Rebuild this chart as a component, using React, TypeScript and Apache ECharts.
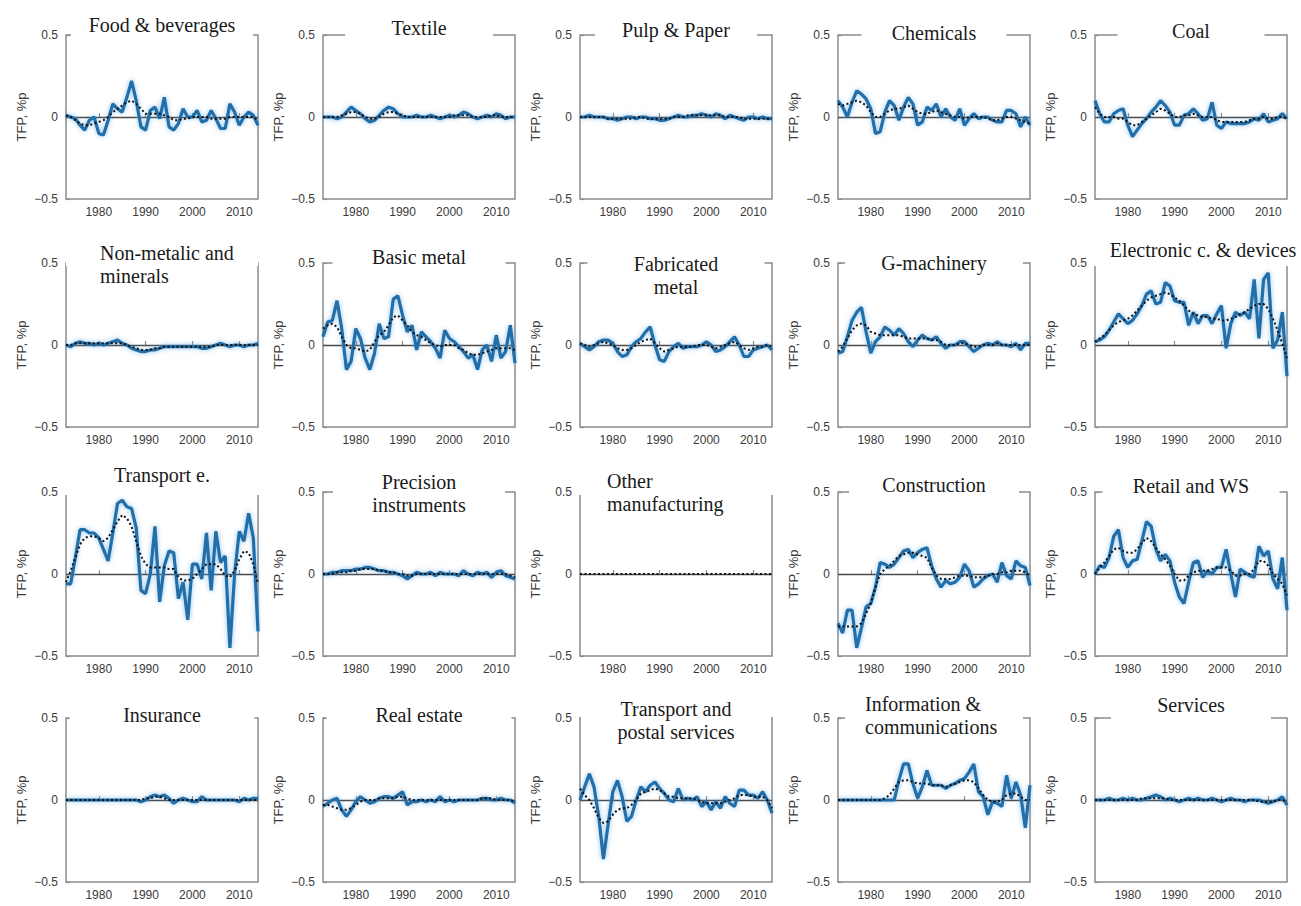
import React, { useEffect, useRef } from "react";
import * as echarts from "echarts";

// ---------- data ----------
const years = [
  1973, 1974, 1975, 1976, 1977, 1978, 1979, 1980, 1981, 1982,
  1983, 1984, 1985, 1986, 1987, 1988, 1989, 1990, 1991, 1992,
  1993, 1994, 1995, 1996, 1997, 1998, 1999, 2000, 2001, 2002,
  2003, 2004, 2005, 2006, 2007, 2008, 2009, 2010, 2011, 2012,
  2013, 2014,
];
const xTickYears = [1980, 1990, 2000, 2010];
const yMin = -0.5;
const yMax = 0.5;
const yStep = 0.5;
const yAxisName = "TFP, %p";

const panelTitles = [
  "Food & beverages", "Textile", "Pulp & Paper", "Chemicals", "Coal",
  "Non-metalic and\nminerals", "Basic metal", "Fabricated\nmetal", "G-machinery", "Electronic c. & devices",
  "Transport e.", "Precision\ninstruments", "Other\nmanufacturing", "Construction", "Retail and WS",
  "Insurance", "Real estate", "Transport and\npostal services", "Information &\ncommunications", "Services",
];

const foodTFP = [0.01, 0.0, -0.01, -0.05, -0.08, -0.02, 0.0, -0.10, -0.11, -0.02, 0.08, 0.05, 0.03, 0.12, 0.22, 0.10, -0.06, -0.08, 0.04, 0.06, -0.01, 0.12, -0.06, -0.08, -0.04, 0.05, 0.0, 0.0, 0.04, -0.03, -0.02, 0.04, -0.01, -0.07, -0.07, 0.08, 0.03, -0.05, 0.0, 0.03, 0.01, -0.05];
const foodTrend = [0.01, 0.0, -0.02, -0.04, -0.05, -0.05, -0.04, -0.03, -0.02, 0.0, 0.03, 0.05, 0.07, 0.09, 0.10, 0.08, 0.05, 0.02, 0.02, 0.02, 0.02, 0.01, 0.0, -0.02, -0.02, -0.01, -0.01, 0.0, 0.0, 0.0, 0.0, -0.01, -0.01, -0.01, -0.01, 0.0, 0.0, 0.0, 0.0, 0.0, 0.0, -0.02];

const textileTFP = [0.0, 0.0, 0.0, -0.01, 0.0, 0.03, 0.06, 0.04, 0.02, -0.01, -0.03, -0.02, 0.01, 0.04, 0.06, 0.05, 0.02, 0.0, 0.0, 0.0, 0.01, 0.0, 0.0, 0.01, 0.0, -0.01, 0.0, 0.01, 0.0, 0.01, 0.03, 0.02, 0.0, -0.01, 0.0, 0.01, 0.0, 0.02, 0.01, -0.01, 0.0, 0.0];
const textileTrend = [0.0, 0.0, 0.0, 0.0, 0.01, 0.02, 0.03, 0.03, 0.02, 0.0, -0.01, -0.01, 0.0, 0.02, 0.03, 0.03, 0.02, 0.01, 0.0, 0.0, 0.0, 0.0, 0.0, 0.0, 0.0, 0.0, 0.0, 0.0, 0.01, 0.01, 0.01, 0.01, 0.0, 0.0, 0.0, 0.0, 0.01, 0.01, 0.0, 0.0, 0.0, 0.0];

const pulpTFP = [0.0, 0.0, 0.01, 0.0, 0.0, 0.0, -0.01, -0.01, -0.02, -0.01, 0.0, 0.0, -0.01, 0.0, 0.0, -0.01, -0.01, -0.02, -0.02, -0.01, 0.0, 0.01, 0.0, 0.0, 0.01, 0.01, 0.02, 0.01, 0.0, 0.02, 0.01, -0.01, 0.01, 0.0, -0.01, -0.02, 0.0, 0.0, -0.01, 0.0, -0.01, -0.01];
const pulpTrend = [0.0, 0.0, 0.0, 0.0, 0.0, 0.0, -0.01, -0.01, -0.01, -0.01, -0.01, -0.01, 0.0, 0.0, -0.01, -0.01, -0.01, -0.01, -0.01, -0.01, 0.0, 0.0, 0.0, 0.01, 0.01, 0.01, 0.01, 0.01, 0.01, 0.01, 0.01, 0.0, 0.0, 0.0, 0.0, -0.01, -0.01, -0.01, -0.01, -0.01, -0.01, -0.01];

const chemTFP = [0.10, 0.06, 0.0, 0.09, 0.16, 0.14, 0.11, 0.05, -0.10, -0.09, 0.03, 0.10, 0.07, -0.02, 0.06, 0.12, 0.08, -0.05, -0.03, 0.06, 0.04, 0.08, 0.0, 0.05, 0.0, -0.02, 0.05, -0.05, -0.01, 0.02, -0.01, 0.0, 0.0, -0.02, -0.03, -0.03, 0.04, 0.04, 0.02, -0.06, 0.0, -0.05];
const chemTrend = [0.08, 0.07, 0.08, 0.09, 0.10, 0.09, 0.07, 0.03, 0.0, 0.0, 0.02, 0.04, 0.05, 0.05, 0.06, 0.07, 0.05, 0.03, 0.02, 0.02, 0.03, 0.04, 0.03, 0.02, 0.01, 0.0, 0.0, -0.01, 0.0, 0.0, 0.0, 0.0, -0.01, -0.02, -0.02, -0.01, 0.0, 0.0, -0.01, -0.02, -0.03, -0.04];

const coalTFP = [0.10, 0.02, -0.03, -0.03, 0.02, 0.04, 0.05, -0.05, -0.12, -0.08, -0.04, -0.01, 0.03, 0.06, 0.10, 0.07, 0.03, -0.05, -0.05, 0.01, 0.02, 0.05, 0.02, -0.02, -0.01, 0.09, -0.05, -0.07, -0.03, -0.04, -0.04, -0.04, -0.04, -0.03, -0.01, -0.02, 0.02, -0.03, -0.02, -0.01, 0.02, -0.01];
const coalTrend = [0.06, 0.02, 0.0, 0.0, 0.0, -0.01, -0.01, -0.03, -0.05, -0.05, -0.03, -0.01, 0.01, 0.03, 0.05, 0.04, 0.02, 0.0, 0.0, 0.01, 0.01, 0.02, 0.01, 0.0, 0.0, 0.0, -0.02, -0.03, -0.03, -0.03, -0.03, -0.03, -0.03, -0.02, -0.01, -0.01, 0.0, -0.01, -0.01, 0.0, 0.0, -0.01];

const nonmetTFP = [0.0, -0.01, 0.01, 0.02, 0.01, 0.01, 0.0, 0.01, 0.0, 0.01, 0.02, 0.03, 0.01, 0.0, -0.02, -0.03, -0.04, -0.04, -0.03, -0.03, -0.02, -0.01, -0.01, -0.01, -0.01, -0.01, -0.01, -0.01, -0.01, -0.02, -0.02, -0.01, 0.0, 0.01, 0.0, -0.01, 0.0, 0.0, -0.01, 0.0, 0.0, 0.01];
const nonmetTrend = [0.0, 0.0, 0.01, 0.01, 0.01, 0.01, 0.01, 0.01, 0.01, 0.01, 0.01, 0.01, 0.01, 0.0, -0.01, -0.02, -0.03, -0.03, -0.03, -0.02, -0.02, -0.01, -0.01, -0.01, -0.01, -0.01, -0.01, -0.01, -0.01, -0.01, -0.01, -0.01, 0.0, 0.0, 0.0, 0.0, 0.0, 0.0, 0.0, 0.0, 0.0, 0.0];

const basicTFP = [0.05, 0.14, 0.15, 0.27, 0.10, -0.15, -0.10, 0.10, 0.04, -0.08, -0.15, -0.05, 0.13, 0.04, 0.05, 0.28, 0.30, 0.18, 0.08, 0.12, -0.03, 0.08, 0.05, 0.02, -0.02, -0.08, 0.09, 0.04, 0.02, -0.01, -0.04, -0.08, -0.06, -0.15, -0.03, 0.0, -0.10, 0.06, -0.08, -0.04, 0.12, -0.11];
const basicTrend = [0.10, 0.12, 0.13, 0.11, 0.05, 0.0, -0.02, -0.02, -0.03, -0.04, -0.03, 0.02, 0.06, 0.08, 0.12, 0.17, 0.18, 0.15, 0.12, 0.08, 0.06, 0.05, 0.03, 0.01, 0.0, -0.01, 0.0, 0.0, 0.0, -0.02, -0.03, -0.05, -0.06, -0.06, -0.05, -0.04, -0.03, -0.02, -0.02, -0.02, -0.02, -0.03];

const fabTFP = [0.01, -0.01, -0.03, -0.01, 0.02, 0.03, 0.03, 0.01, -0.04, -0.07, -0.06, -0.01, 0.02, 0.04, 0.08, 0.11, 0.0, -0.09, -0.10, -0.04, -0.01, 0.01, -0.02, -0.01, -0.01, -0.01, 0.0, 0.02, 0.0, -0.04, -0.03, -0.01, 0.02, 0.05, 0.0, -0.07, -0.07, -0.03, -0.02, -0.01, 0.0, -0.03];
const fabTrend = [0.01, 0.0, -0.01, 0.0, 0.01, 0.02, 0.01, 0.0, -0.02, -0.03, -0.03, -0.02, 0.0, 0.02, 0.03, 0.04, 0.01, -0.02, -0.04, -0.03, -0.02, -0.01, -0.01, -0.01, -0.01, 0.0, 0.0, 0.0, -0.01, -0.02, -0.01, 0.0, 0.01, 0.02, 0.0, -0.02, -0.03, -0.02, -0.01, -0.01, 0.0, -0.01];

const gmachTFP = [-0.05, -0.04, 0.05, 0.15, 0.20, 0.23, 0.08, -0.05, 0.02, 0.05, 0.11, 0.09, 0.06, 0.10, 0.07, 0.02, -0.01, 0.03, 0.06, 0.04, 0.03, 0.05, 0.01, -0.02, 0.0, 0.0, 0.02, 0.02, -0.01, -0.04, -0.02, 0.0, 0.01, 0.0, 0.02, 0.0, 0.0, -0.01, 0.01, -0.03, 0.01, 0.01];
const gmachTrend = [-0.04, -0.01, 0.04, 0.09, 0.12, 0.13, 0.12, 0.08, 0.07, 0.06, 0.06, 0.06, 0.06, 0.06, 0.05, 0.04, 0.04, 0.04, 0.04, 0.04, 0.03, 0.03, 0.02, 0.0, 0.0, 0.0, 0.01, 0.01, 0.0, -0.01, -0.01, 0.0, 0.0, 0.0, 0.01, 0.0, 0.0, 0.0, 0.0, 0.0, 0.0, 0.0];

const elecTFP = [0.02, 0.03, 0.05, 0.09, 0.14, 0.19, 0.16, 0.13, 0.15, 0.19, 0.24, 0.31, 0.33, 0.25, 0.26, 0.38, 0.36, 0.27, 0.26, 0.26, 0.12, 0.20, 0.13, 0.18, 0.18, 0.13, 0.19, 0.24, -0.02, 0.13, 0.20, 0.18, 0.20, 0.16, 0.40, 0.04, 0.40, 0.44, -0.02, 0.03, 0.20, -0.19];
const elecTrend = [0.02, 0.04, 0.06, 0.09, 0.12, 0.14, 0.15, 0.16, 0.18, 0.21, 0.24, 0.27, 0.29, 0.30, 0.31, 0.32, 0.31, 0.29, 0.27, 0.24, 0.21, 0.19, 0.18, 0.17, 0.17, 0.16, 0.16, 0.15, 0.15, 0.16, 0.17, 0.19, 0.20, 0.22, 0.24, 0.25, 0.25, 0.22, 0.16, 0.09, 0.01, -0.08];

const transTFP = [-0.06, -0.06, 0.10, 0.27, 0.27, 0.25, 0.25, 0.22, 0.15, 0.08, 0.25, 0.43, 0.45, 0.41, 0.40, 0.28, -0.10, -0.12, 0.0, 0.29, -0.17, 0.05, 0.14, 0.13, -0.15, -0.05, -0.28, 0.06, 0.06, -0.03, 0.25, -0.10, 0.26, 0.07, 0.11, -0.45, 0.0, 0.26, 0.20, 0.37, 0.22, -0.35];
const transTrend = [-0.05, 0.02, 0.10, 0.18, 0.22, 0.23, 0.23, 0.22, 0.20, 0.22, 0.27, 0.32, 0.36, 0.34, 0.29, 0.20, 0.11, 0.06, 0.04, 0.04, 0.04, 0.04, 0.03, 0.03, -0.02, -0.04, -0.04, -0.03, 0.0, 0.03, 0.06, 0.06, 0.06, 0.03, -0.01, -0.02, 0.02, 0.09, 0.14, 0.13, 0.06, -0.06];

const precTFP = [0.0, 0.0, 0.01, 0.01, 0.02, 0.02, 0.02, 0.03, 0.03, 0.04, 0.04, 0.03, 0.02, 0.02, 0.01, 0.01, 0.0, -0.01, -0.03, -0.01, 0.01, 0.0, 0.0, 0.01, -0.01, 0.01, 0.0, 0.0, 0.0, -0.01, 0.02, 0.0, -0.01, 0.01, 0.0, 0.01, -0.02, 0.01, 0.02, -0.01, -0.02, -0.03];
const precTrend = [0.0, 0.0, 0.0, 0.01, 0.01, 0.01, 0.02, 0.02, 0.03, 0.03, 0.03, 0.03, 0.02, 0.02, 0.01, 0.01, 0.0, 0.0, -0.01, -0.01, 0.0, 0.0, 0.0, 0.0, 0.0, 0.0, 0.0, 0.0, 0.0, 0.0, 0.0, 0.0, 0.0, 0.0, 0.0, 0.0, 0.0, 0.0, 0.0, 0.0, -0.01, -0.02];

const otherTFP = [0, 0, 0, 0, 0, 0, 0, 0, 0, 0, 0, 0, 0, 0, 0, 0, 0, 0, 0, 0, 0, 0, 0, 0, 0, 0, 0, 0, 0, 0, 0, 0, 0, 0, 0, 0, 0, 0, 0, 0, 0, 0];
const otherTrend = [0, 0, 0, 0, 0, 0, 0, 0, 0, 0, 0, 0, 0, 0, 0, 0, 0, 0, 0, 0, 0, 0, 0, 0, 0, 0, 0, 0, 0, 0, 0, 0, 0, 0, 0, 0, 0, 0, 0, 0, 0, 0];

const consTFP = [-0.30, -0.36, -0.22, -0.22, -0.45, -0.33, -0.20, -0.18, -0.08, 0.07, 0.06, 0.04, 0.06, 0.10, 0.14, 0.15, 0.10, 0.13, 0.15, 0.16, 0.05, -0.03, -0.08, -0.04, -0.06, -0.05, -0.02, 0.06, 0.02, -0.08, -0.06, -0.03, -0.01, 0.0, -0.05, 0.07, -0.01, -0.03, 0.08, 0.05, 0.04, -0.07];
const consTrend = [-0.32, -0.32, -0.32, -0.32, -0.32, -0.30, -0.24, -0.18, -0.08, 0.0, 0.03, 0.05, 0.08, 0.11, 0.12, 0.13, 0.13, 0.12, 0.11, 0.10, 0.04, -0.01, -0.03, -0.03, -0.03, -0.02, -0.01, -0.01, -0.01, -0.02, -0.02, -0.02, -0.01, 0.0, 0.0, 0.01, 0.01, 0.02, 0.02, 0.02, 0.01, -0.01];

const retailTFP = [0.0, 0.05, 0.04, 0.10, 0.23, 0.27, 0.10, 0.04, 0.08, 0.09, 0.20, 0.32, 0.29, 0.15, 0.08, 0.12, 0.08, -0.05, -0.14, -0.18, -0.05, 0.07, 0.08, -0.02, 0.02, 0.0, 0.04, 0.04, 0.15, 0.0, -0.14, 0.03, 0.01, -0.01, -0.02, 0.17, 0.11, 0.14, -0.03, -0.09, 0.10, -0.22];
const retailTrend = [0.0, 0.04, 0.07, 0.11, 0.15, 0.16, 0.14, 0.13, 0.13, 0.15, 0.19, 0.22, 0.20, 0.16, 0.12, 0.09, 0.05, 0.0, -0.04, -0.04, -0.01, 0.01, 0.02, 0.02, 0.02, 0.03, 0.04, 0.04, 0.04, 0.02, -0.01, -0.01, 0.0, 0.0, 0.03, 0.08, 0.08, 0.05, 0.0, -0.03, -0.06, -0.13];

const insTFP = [0, 0, 0, 0, 0, 0, 0, 0, 0, 0, 0, 0, 0, 0, 0, 0, -0.01, 0.0, 0.02, 0.03, 0.02, 0.03, 0.01, -0.02, 0.0, 0.01, 0.0, -0.01, -0.01, 0.02, 0.0, 0.0, 0.0, 0.0, 0.0, 0.0, 0.0, -0.01, 0.01, 0.0, 0.01, 0.01];
const insTrend = [0, 0, 0, 0, 0, 0, 0, 0, 0, 0, 0, 0, 0, 0, 0, 0, 0, 0.01, 0.01, 0.02, 0.02, 0.01, 0.0, 0.0, 0.0, 0.0, 0.0, 0.0, 0.0, 0.0, 0, 0, 0, 0, 0, 0, 0, 0, 0, 0, 0, 0];

const realTFP = [-0.04, -0.02, 0.0, 0.01, -0.06, -0.10, -0.06, -0.01, 0.02, 0.0, -0.02, -0.01, 0.01, 0.02, 0.02, 0.01, 0.03, 0.05, -0.03, -0.01, -0.01, 0.0, -0.01, 0.0, -0.01, 0.02, -0.01, 0.0, -0.01, 0.0, 0.0, 0.0, 0.0, 0.0, 0.01, 0.01, 0.0, 0.0, 0.01, 0.0, 0.0, -0.02];
const realTrend = [-0.03, -0.03, -0.04, -0.05, -0.06, -0.06, -0.05, -0.03, -0.01, 0.0, 0.0, 0.0, 0.01, 0.01, 0.01, 0.01, 0.02, 0.02, 0.01, 0.0, 0.0, 0.0, 0.0, 0.0, 0.0, 0.0, 0.0, 0.0, 0.0, 0.0, 0.0, 0.0, 0.0, 0.0, 0.01, 0.01, 0.01, 0.0, 0.0, 0.0, 0.0, -0.01];

const postTFP = [0.0, 0.08, 0.16, 0.08, -0.10, -0.36, -0.15, 0.05, 0.12, 0.02, -0.13, -0.10, 0.0, 0.08, 0.05, 0.09, 0.11, 0.07, 0.04, 0.0, -0.01, 0.07, 0.0, 0.01, 0.0, 0.02, -0.04, -0.01, -0.06, -0.01, -0.05, 0.02, -0.02, -0.04, 0.06, 0.06, 0.03, 0.03, 0.01, 0.05, 0.0, -0.08];
const postTrend = [0.07, 0.03, 0.0, -0.05, -0.11, -0.14, -0.13, -0.09, -0.06, -0.05, -0.05, -0.03, 0.0, 0.04, 0.05, 0.06, 0.07, 0.06, 0.04, 0.02, 0.02, 0.01, 0.01, 0.01, 0.01, 0.0, -0.01, -0.02, -0.02, -0.02, -0.02, -0.01, 0.0, 0.01, 0.03, 0.03, 0.03, 0.02, 0.02, 0.02, 0.0, -0.05];

const infoTFP = [0, 0, 0, 0, 0, 0, 0, 0, 0, 0, 0, 0, 0.0, 0.12, 0.22, 0.22, 0.10, 0.01, 0.08, 0.18, 0.09, 0.09, 0.09, 0.07, 0.09, 0.10, 0.12, 0.13, 0.17, 0.22, 0.05, 0.02, -0.09, -0.01, -0.02, -0.04, 0.15, 0.01, 0.11, 0.03, -0.17, 0.09];
const infoTrend = [0, 0, 0, 0, 0, 0, 0, 0, 0, 0, 0.01, 0.03, 0.07, 0.11, 0.12, 0.12, 0.11, 0.10, 0.10, 0.10, 0.09, 0.09, 0.09, 0.08, 0.09, 0.10, 0.11, 0.12, 0.12, 0.11, 0.07, 0.03, 0.0, -0.01, -0.01, 0.0, 0.03, 0.04, 0.04, 0.02, 0.0, 0.0];

const servTFP = [0.0, 0.0, 0.0, 0.01, 0.0, 0.0, 0.01, 0.0, 0.01, 0.0, 0.0, 0.01, 0.02, 0.03, 0.02, 0.0, 0.01, 0.0, -0.01, 0.0, 0.01, 0.0, 0.01, 0.0, 0.0, 0.01, 0.0, -0.01, 0.0, 0.01, 0.0, 0.0, -0.01, 0.0, 0.0, 0.0, -0.01, -0.02, -0.01, 0.0, 0.02, -0.03];
const servTrend = [0, 0, 0, 0, 0, 0, 0, 0, 0, 0, 0.01, 0.01, 0.01, 0.01, 0.01, 0.01, 0.0, 0.0, 0.0, 0.0, 0, 0, 0, 0, 0, 0, 0, 0, 0, 0, 0, 0, 0, 0, 0, -0.01, -0.01, -0.01, -0.01, 0.0, 0.0, -0.01];

const tfpSeries = [
  foodTFP, textileTFP, pulpTFP, chemTFP, coalTFP,
  nonmetTFP, basicTFP, fabTFP, gmachTFP, elecTFP,
  transTFP, precTFP, otherTFP, consTFP, retailTFP,
  insTFP, realTFP, postTFP, infoTFP, servTFP,
];
const trendSeries = [
  foodTrend, textileTrend, pulpTrend, chemTrend, coalTrend,
  nonmetTrend, basicTrend, fabTrend, gmachTrend, elecTrend,
  transTrend, precTrend, otherTrend, consTrend, retailTrend,
  insTrend, realTrend, postTrend, infoTrend, servTrend,
];

// ---------- layout / style ----------
const COL_X = [66, 323, 580, 838, 1095];
const ROW_Y = [35, 263, 492, 718];
const GW = 192;
const GH = 164;

// title block: vertical centre (px), horizontal anchor offset, alignment, white gap width over top border
const titleLayout = [
  { y: 25, align: "center", dx: 0, gap: 182 },
  { y: 28, align: "center", dx: 0, gap: 148 },
  { y: 30, align: "center", dx: 0, gap: 162 },
  { y: 33, align: "center", dx: 0, gap: 145 },
  { y: 31, align: "center", dx: 0, gap: 147 },
  { y: 264, align: "left", dx: 34, gap: 192 },
  { y: 257, align: "center", dx: 0, gap: 173 },
  { y: 275, align: "center", dx: 0, gap: 177 },
  { y: 263, align: "center", dx: 0, gap: 178 },
  { y: 250, align: "center", dx: 12, gap: 196 },
  { y: 475, align: "center", dx: 0, gap: 196 },
  { y: 493, align: "center", dx: 0, gap: 172 },
  { y: 492, align: "left", dx: 27, gap: 196 },
  { y: 485, align: "center", dx: 0, gap: 170 },
  { y: 486, align: "center", dx: 0, gap: 177 },
  { y: 715, align: "center", dx: 0, gap: 185 },
  { y: 715, align: "center", dx: 0, gap: 185 },
  { y: 720, align: "center", dx: 0, gap: 190 },
  { y: 715, align: "left", dx: 27, gap: 178 },
  { y: 705, align: "center", dx: 0, gap: 160 },
];

const BLUE = "#216ea9";
const FRAME = "#8c8c8c";
const LABEL = "#3a3a3a";
const SANS = "'Liberation Sans', Arial, sans-serif";
const SERIF = "'Liberation Serif', 'Times New Roman', serif";

function buildOption() {
  const grid: any[] = [];
  const xAxis: any[] = [];
  const yAxis: any[] = [];
  const series: any[] = [];
  const graphic: any[] = [];

  panelTitles.forEach((title, i) => {
    const r = Math.floor(i / 5);
    const c = i % 5;
    const left = COL_X[c];
    const top = ROW_Y[r];
    const tl = titleLayout[i];

    grid.push({
      left, top, width: GW, height: GH,
      show: true, borderColor: FRAME, borderWidth: 1.5, backgroundColor: "transparent",
    });
    xAxis.push({
      type: "value", gridIndex: i, min: years[0], max: years[years.length - 1],
      axisLine: { show: false }, splitLine: { show: false },
      axisTick: { show: true, inside: true, length: 4, customValues: xTickYears, lineStyle: { color: FRAME, width: 1.2 } },
      axisLabel: {
        customValues: xTickYears, color: LABEL, fontSize: 12, fontFamily: SANS, margin: 7,
        formatter: (v: number) => String(v),
      },
    });
    yAxis.push({
      type: "value", gridIndex: i, min: yMin, max: yMax, interval: yStep,
      name: yAxisName, nameLocation: "middle", nameGap: 38,
      nameTextStyle: { color: LABEL, fontSize: 13, fontFamily: SANS },
      axisLine: { show: false }, splitLine: { show: false },
      axisTick: { show: true, inside: true, length: 4, lineStyle: { color: FRAME, width: 1.2 } },
      axisLabel: {
        color: LABEL, fontSize: 12, fontFamily: SANS, margin: 8,
        formatter: (v: number) => (v < 0 ? "\u2212" + Math.abs(v) : String(v)),
      },
    });
    series.push({
      type: "line", xAxisIndex: i, yAxisIndex: i, z: 2,
      data: years.map((y, k) => [y, tfpSeries[i][k]]),
      showSymbol: false, symbol: "none",
      lineStyle: { color: BLUE, width: 3.2, shadowColor: "rgba(90,165,225,0.7)", shadowBlur: 5 },
      markLine: {
        silent: true, symbol: ["none", "none"], z: 1, animation: false,
        label: { show: false },
        lineStyle: { color: "#4a4a4a", width: 1.3, type: "solid" },
        emphasis: { disabled: true },
        data: [{ yAxis: 0 }],
      },
    });
    series.push({
      type: "line", xAxisIndex: i, yAxisIndex: i, z: 3,
      data: years.map((y, k) => [y, trendSeries[i][k]]),
      showSymbol: false, symbol: "none",
      lineStyle: { color: "#111111", width: 2, type: [2, 2.5] },
    });

    const cx = left + GW / 2;
    graphic.push({
      type: "rect", z: 50, silent: true,
      shape: { x: cx - tl.gap / 2, y: top - 3, width: tl.gap, height: 6 },
      style: { fill: "#ffffff" },
    });
    graphic.push({
      type: "text", z: 51, silent: true,
      x: tl.align === "left" ? left + tl.dx : cx + tl.dx,
      y: tl.y,
      style: {
        text: title, fill: "#1a1a1a", font: `20px ${SERIF}`,
        align: tl.align, verticalAlign: "middle", lineHeight: 23,
      },
    });
  });

  return {
    animation: false,
    backgroundColor: "#ffffff",
    textStyle: { fontFamily: SANS },
    grid, xAxis, yAxis, series, graphic,
  };
}

export default function App() {
  const ref = useRef<HTMLDivElement>(null);
  useEffect(() => {
    if (!ref.current) return;
    const chart = echarts.init(ref.current, undefined, { renderer: "svg" });
    chart.setOption(buildOption() as any);
    return () => chart.dispose();
  }, []);
  return (
    <div
      ref={ref}
      style={{ position: "absolute", left: 0, top: 0, width: 1301, height: 906 }}
    />
  );
}
